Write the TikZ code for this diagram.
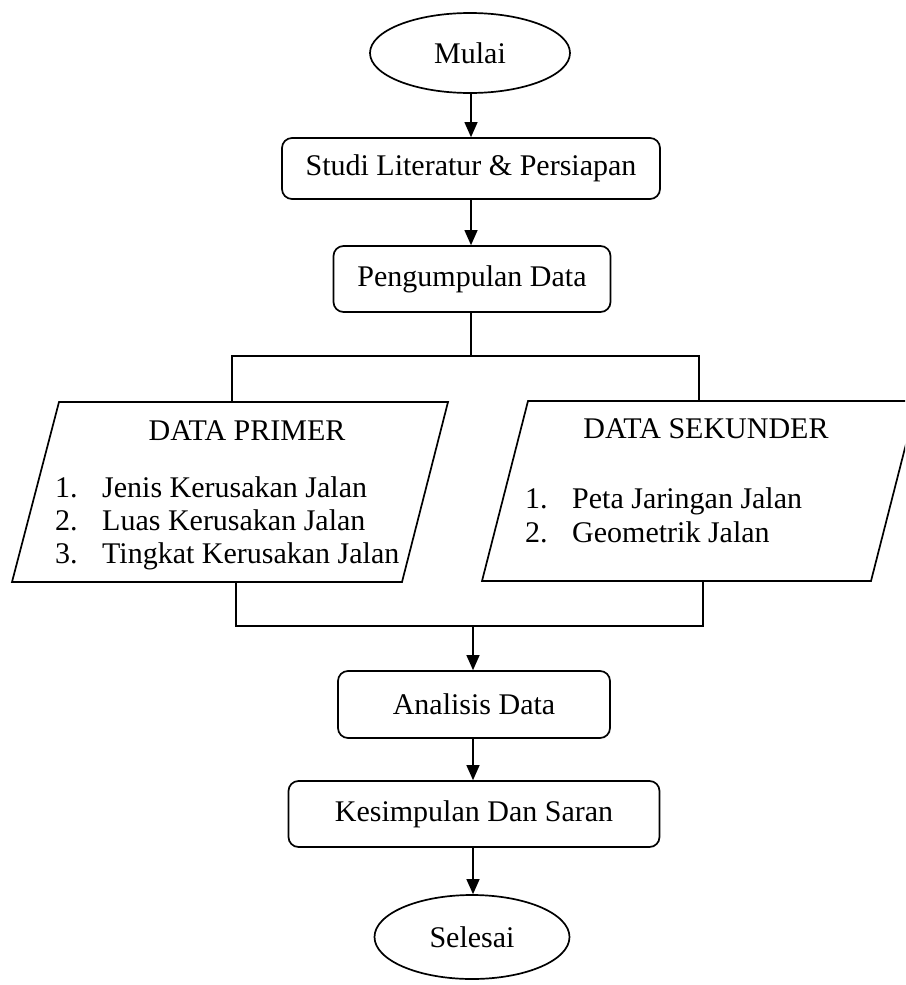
\documentclass[tikz,border=0pt]{standalone}
\usepackage{fontspec}
\setmainfont{Liberation Serif}
\usetikzlibrary{arrows.meta,shapes.geometric}
\begin{document}
\begin{tikzpicture}[x=1pt,y=-1pt,
  font=\fontsize{30}{33}\selectfont,
  box/.style={draw, line width=1.7pt, rounded corners=10pt, inner sep=0pt},
  term/.style={draw, ellipse, line width=1.7pt, inner sep=0pt},
  para/.style={draw, line width=1.7pt, line join=miter},
  conn/.style={line width=1.2pt},
  arr/.style={conn, -{Triangle[length=15pt,width=13pt]}},
  txt/.style={inner sep=0pt, anchor=base west},
  head/.style={inner sep=0pt, anchor=base}]
\useasboundingbox (0,0) rectangle (905,985);
\clip (0,0) rectangle (905,985);

% top part
\node[term, minimum width=200pt, minimum height=80pt] (mulai) at (470,53) {Mulai};
\node[box, minimum width=378pt, minimum height=61pt] (studi) at (471,168.5) {Studi Literatur \& Persiapan};
\node[box, minimum width=277pt, minimum height=66pt] (kumpul) at (472,279) {Pengumpulan Data};

\draw[arr] (mulai.south -| studi.north) -- (studi.north);
\draw[arr] (studi.south) -- (studi.south |- kumpul.north);

% data primer
\draw[para] (59,402) -- (448,402) -- (402,582) -- (12,582) -- cycle;
\coordinate (primerTop) at (232,402);
\coordinate (primerBot) at (236,582);
\node[head] (primerHead) at (247,440) {DATA PRIMER};
\node[txt] (pn1) at (55,497) {1.};
\node[txt] (pt1) at (102,497) {Jenis Kerusakan Jalan};
\node[txt] (pn2) at (55,530) {2.};
\node[txt] (pt2) at (102,530) {Luas Kerusakan Jalan};
\node[txt] (pn3) at (55,563) {3.};
\node[txt] (pt3) at (102,563) {Tingkat Kerusakan Jalan};

% data sekunder
\draw[para] (528,401) -- (917,401) -- (871,581) -- (482,581) -- cycle;
\coordinate (sekTop) at (699,401);
\coordinate (sekBot) at (703,581);
\node[head] (sekHead) at (706,438) {DATA SEKUNDER};
\node[txt] (sn1) at (525,508) {1.};
\node[txt] (st1) at (572,508) {Peta Jaringan Jalan};
\node[txt] (sn2) at (525,542) {2.};
\node[txt] (st2) at (572,542) {Geometrik Jalan};

% split
\coordinate (split) at (471,356);
\draw[conn] (kumpul.south -| split) -- (split);
\draw[conn] (primerTop) |- (split) -| (sekTop);

% bottom part
\node[box, minimum width=272pt, minimum height=67pt] (analisis) at (474,704.5) {Analisis Data};
\node[box, minimum width=371pt, minimum height=66pt] (simpul) at (474,814) {Kesimpulan Dan Saran};
\node[term, minimum width=195pt, minimum height=84pt] (selesai) at (472,937) {Selesai};

\coordinate (merge) at (473,626);
\draw[conn] (primerBot) |- (merge) -| (sekBot);
\draw[arr] (merge) -- (merge |- analisis.north);
\draw[arr] (merge |- analisis.south) -- (merge |- simpul.north);
\draw[arr] (merge |- simpul.south) -- (merge |- selesai.north);
\end{tikzpicture}
\end{document}
